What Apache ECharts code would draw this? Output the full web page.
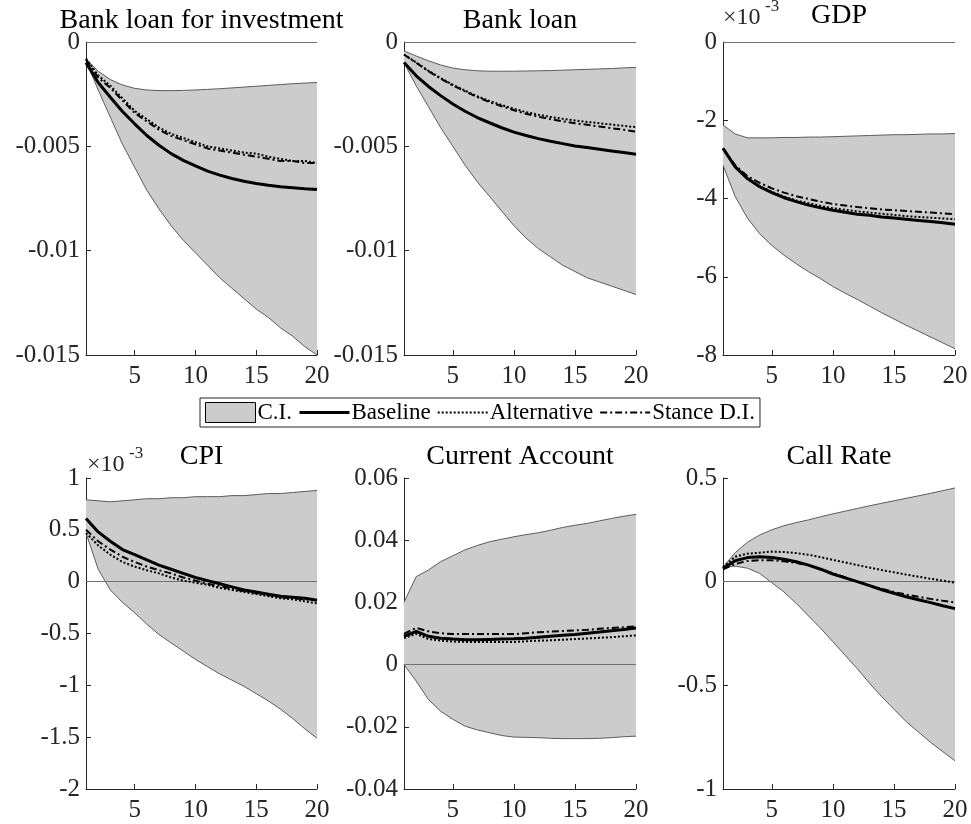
<!DOCTYPE html>
<html><head><meta charset="utf-8">
<script src="https://cdn.jsdelivr.net/npm/echarts@6/dist/echarts.min.js"></script>
<style>html,body{margin:0;padding:0;background:#fff}#c{width:971px;height:824px}</style>
</head><body><div id="c"></div>
<script>
// ---------------- data ----------------
const periods = [1,2,3,4,5,6,7,8,9,10,11,12,13,14,15,16,17,18,19,20];
const xTickValues = [5,10,15,20];
const legendNames = ['C.I.', 'Baseline', 'Alternative', 'Stance D.I.'];
const panelTitles = ['Bank loan for investment', 'Bank loan', 'GDP', 'CPI', 'Current Account', 'Call Rate'];

// Bank loan for investment
const bliUpper  = [-0.0008,-0.0014,-0.0018,-0.00206,-0.00222,-0.0023,-0.00233,-0.00233,-0.00232,-0.0023,-0.00227,-0.00224,-0.0022,-0.00216,-0.00212,-0.00208,-0.00204,-0.002,-0.00197,-0.00194];
const bliLower  = [-0.0009,-0.0023,-0.0036,-0.0049,-0.006,-0.0071,-0.008,-0.0088,-0.0095,-0.0101,-0.0107,-0.0113,-0.0118,-0.0123,-0.0128,-0.0132,-0.0137,-0.0141,-0.0146,-0.015];
const bliBase   = [-0.00099,-0.00194,-0.00265,-0.00333,-0.00392,-0.00448,-0.00495,-0.00535,-0.00567,-0.00594,-0.00619,-0.00638,-0.00654,-0.00667,-0.00678,-0.00687,-0.00694,-0.00698,-0.00703,-0.00707];
const bliAlt    = [-0.0008,-0.0016,-0.0021,-0.0027,-0.0033,-0.0037,-0.0041,-0.0044,-0.0046,-0.0048,-0.005,-0.0051,-0.0052,-0.0053,-0.00535,-0.0055,-0.0056,-0.0057,-0.0057,-0.0058];
const bliStance = [-0.00085,-0.0017,-0.0022,-0.0028,-0.0034,-0.0038,-0.0042,-0.0045,-0.0047,-0.0049,-0.0051,-0.0052,-0.0053,-0.0054,-0.0055,-0.0056,-0.0057,-0.0057,-0.0058,-0.0058];

// Bank loan
const blUpper  = [-0.00043,-0.00067,-0.0009,-0.0011,-0.00125,-0.00133,-0.00138,-0.0014,-0.0014,-0.0014,-0.00139,-0.00138,-0.00137,-0.00135,-0.00133,-0.00131,-0.00129,-0.00127,-0.00124,-0.00122];
const blLower  = [-0.001,-0.0021,-0.0031,-0.0041,-0.005,-0.0059,-0.0067,-0.0074,-0.0081,-0.0088,-0.0094,-0.0099,-0.0103,-0.0107,-0.011,-0.0113,-0.0115,-0.0117,-0.0119,-0.0121];
const blBase   = [-0.00098,-0.00162,-0.00213,-0.00257,-0.00297,-0.00332,-0.00362,-0.00387,-0.00411,-0.00432,-0.00448,-0.00463,-0.00476,-0.00487,-0.00498,-0.00506,-0.00514,-0.00522,-0.0053,-0.00538];
const blAlt    = [-0.0006,-0.00098,-0.00138,-0.00173,-0.00205,-0.00233,-0.0026,-0.00283,-0.00302,-0.0032,-0.00336,-0.00348,-0.00359,-0.00368,-0.00376,-0.00383,-0.00389,-0.00396,-0.00402,-0.00408];
const blStance = [-0.0006,-0.001,-0.0014,-0.00176,-0.00208,-0.00237,-0.00264,-0.00288,-0.00308,-0.00327,-0.00344,-0.00358,-0.0037,-0.0038,-0.00389,-0.00397,-0.00405,-0.00413,-0.00421,-0.00429];

// GDP (x 10^-3)
const gdpUpper  = [-2.12,-2.35,-2.45,-2.45,-2.45,-2.44,-2.44,-2.43,-2.43,-2.42,-2.41,-2.4,-2.39,-2.38,-2.37,-2.37,-2.36,-2.35,-2.35,-2.34];
const gdpLower  = [-3.15,-3.95,-4.5,-4.9,-5.2,-5.45,-5.67,-5.87,-6.05,-6.25,-6.42,-6.58,-6.75,-6.92,-7.08,-7.24,-7.39,-7.54,-7.69,-7.84];
const gdpBase   = [-2.72,-3.19,-3.49,-3.7,-3.85,-3.98,-4.08,-4.17,-4.24,-4.3,-4.35,-4.4,-4.43,-4.47,-4.5,-4.53,-4.56,-4.59,-4.62,-4.66];
const gdpAlt    = [-2.72,-3.18,-3.47,-3.68,-3.83,-3.95,-4.05,-4.12,-4.19,-4.25,-4.29,-4.33,-4.36,-4.39,-4.42,-4.45,-4.47,-4.49,-4.51,-4.53];
const gdpStance = [-2.72,-3.15,-3.43,-3.6,-3.74,-3.85,-3.94,-4.01,-4.08,-4.14,-4.18,-4.22,-4.25,-4.28,-4.3,-4.32,-4.34,-4.36,-4.38,-4.4];

// CPI (x 10^-3)
const cpiUpper  = [0.79,0.78,0.77,0.78,0.79,0.8,0.8,0.81,0.81,0.82,0.82,0.82,0.83,0.83,0.84,0.85,0.85,0.86,0.87,0.88];
const cpiLower  = [0.47,0.12,-0.08,-0.2,-0.3,-0.41,-0.51,-0.59,-0.67,-0.75,-0.82,-0.89,-0.95,-1.01,-1.08,-1.15,-1.23,-1.32,-1.42,-1.51];
const cpiBase   = [0.61,0.48,0.39,0.31,0.26,0.21,0.16,0.12,0.08,0.04,0.01,-0.02,-0.05,-0.08,-0.1,-0.12,-0.14,-0.15,-0.16,-0.18];
const cpiAlt    = [0.47,0.35,0.26,0.19,0.145,0.11,0.08,0.04,0.01,-0.01,-0.03,-0.06,-0.08,-0.1,-0.12,-0.14,-0.16,-0.17,-0.19,-0.21];
const cpiStance = [0.5,0.39,0.31,0.24,0.19,0.145,0.11,0.08,0.04,0.01,-0.02,-0.04,-0.07,-0.09,-0.11,-0.13,-0.15,-0.16,-0.17,-0.18];

// Current Account
const caUpper  = [0.02,0.0283,0.0304,0.0331,0.035,0.0369,0.0383,0.0395,0.0403,0.0411,0.0418,0.0424,0.0432,0.0441,0.0448,0.0454,0.0462,0.047,0.0477,0.0483];
const caLower  = [0,-0.0053,-0.0112,-0.015,-0.0176,-0.0198,-0.021,-0.0219,-0.0228,-0.0233,-0.0234,-0.0235,-0.0237,-0.0238,-0.0238,-0.0238,-0.0237,-0.0235,-0.0232,-0.023];
const caBase   = [0.0091,0.0107,0.0091,0.0085,0.0082,0.008,0.008,0.0081,0.0082,0.0083,0.0085,0.0088,0.0091,0.0094,0.0097,0.0101,0.0105,0.0109,0.0113,0.0118];
const caAlt    = [0.0085,0.0099,0.0082,0.0077,0.0074,0.0073,0.0073,0.0073,0.0073,0.0073,0.0075,0.0077,0.0078,0.008,0.0082,0.0084,0.0086,0.0088,0.0091,0.0094];
const caStance = [0.0099,0.0118,0.0107,0.0101,0.0098,0.0098,0.0098,0.0098,0.0098,0.0098,0.0101,0.0104,0.0106,0.0108,0.011,0.0112,0.0115,0.0118,0.012,0.0123];

// Call Rate
const crUpper  = [0.07,0.14,0.19,0.225,0.25,0.27,0.285,0.298,0.313,0.327,0.34,0.353,0.366,0.378,0.39,0.402,0.414,0.426,0.439,0.452];
const crLower  = [0.07,0.075,0.065,0.04,-0.005,-0.05,-0.105,-0.165,-0.225,-0.29,-0.355,-0.42,-0.49,-0.555,-0.615,-0.675,-0.725,-0.775,-0.82,-0.864];
const crBase   = [0.064,0.101,0.116,0.12,0.117,0.108,0.096,0.08,0.06,0.037,0.018,0,-0.019,-0.039,-0.056,-0.073,-0.087,-0.101,-0.116,-0.13];
const crAlt    = [0.07,0.12,0.135,0.14,0.145,0.143,0.138,0.13,0.118,0.105,0.093,0.08,0.068,0.056,0.045,0.034,0.024,0.014,0.005,-0.005];
const crStance = [0.06,0.085,0.1,0.103,0.103,0.098,0.09,0.08,0.06,0.04,0.021,0,-0.018,-0.035,-0.05,-0.062,-0.073,-0.083,-0.092,-0.1];

// y-axis ranges [min, max, interval]
const yRanges = [[-0.015,0,0.005],[-0.015,0,0.005],[-8,0,2],[-2,1,0.5],[-0.04,0.06,0.02],[-1,0.5,0.5]];

// ---------------- layout / style ----------------
const FONT = '"Liberation Serif","Times New Roman",serif';
const AX = '#262626';
const gridBoxes = [
  {left:86, top:42, width:231, height:313},
  {left:404, top:42, width:232, height:313},
  {left:723, top:42, width:232, height:313},
  {left:86, top:478, width:231, height:311},
  {left:404, top:478, width:232, height:311},
  {left:723, top:478, width:232, height:311}
];
const titleTops = [7, 7, 2, 443, 443, 443];

const panels = [
  {u:bliUpper, l:bliLower, b:bliBase, a:bliAlt, s:bliStance},
  {u:blUpper,  l:blLower,  b:blBase,  a:blAlt,  s:blStance},
  {u:gdpUpper, l:gdpLower, b:gdpBase, a:gdpAlt, s:gdpStance},
  {u:cpiUpper, l:cpiLower, b:cpiBase, a:cpiAlt, s:cpiStance},
  {u:caUpper,  l:caLower,  b:caBase,  a:caAlt,  s:caStance},
  {u:crUpper,  l:crLower,  b:crBase,  a:crAlt,  s:crStance}
];

const pairs = arr => periods.map((x,k)=>[x, arr[k]]);
const DASHDOT = [7,3,2,3];

// confidence band: polygon between lower and upper, drawn once through the axis scales
function renderBand(params, api) {
  if (params.dataIndexInside !== 0) return null;
  const n = params.dataInsideLength;
  const up = [], lo = [];
  for (let k = 0; k < n; k++) {
    const x = api.value(0, k);
    lo.push(api.coord([x, api.value(1, k)]));
    up.push(api.coord([x, api.value(2, k)]));
  }
  return {type:'group', children:[
    {type:'polygon', shape:{points: up.concat(lo.slice().reverse())}, style:{fill:'#cccccc', stroke:null}},
    {type:'polyline', shape:{points: up}, style:{stroke:'#5c5c5c', lineWidth:1, fill:null}},
    {type:'polyline', shape:{points: lo}, style:{stroke:'#5c5c5c', lineWidth:1, fill:null}}
  ]};
}

const grid=[], xAxis=[], yAxis=[], series=[], title=[];
panels.forEach((p,i)=>{
  const g = gridBoxes[i];
  grid.push(Object.assign({containLabel:false}, g));
  title.push({text:panelTitles[i], left:g.left + g.width/2, top:titleTops[i], textAlign:'center', padding:0,
    textStyle:{fontFamily:FONT, fontSize:28, fontWeight:'normal', color:'#000'}});
  xAxis.push({type:'value', gridIndex:i, min:1, max:20,
    axisLine:{show:true, onZero:false, lineStyle:{color:AX, width:1}},
    axisTick:{show:true, inside:true, length:5, customValues:xTickValues, lineStyle:{color:AX}},
    axisLabel:{customValues:xTickValues, fontFamily:FONT, fontSize:25, color:AX, margin:9},
    splitLine:{show:false}});
  const r = yRanges[i];
  yAxis.push({type:'value', gridIndex:i, min:r[0], max:r[1], interval:r[2],
    axisLine:{show:true, onZero:false, lineStyle:{color:AX, width:1}},
    axisTick:{show:true, inside:true, length:5, lineStyle:{color:AX}},
    axisLabel:{fontFamily:FONT, fontSize:25, color:AX, margin:6},
    splitLine:{show:false}});
  series.push({type:'custom', name:'C.I.', xAxisIndex:i, yAxisIndex:i, silent:true, animation:false, z:2,
    data: periods.map((x,k)=>[x, p.l[k], p.u[k]]), encode:{x:0, y:[1,2]},
    itemStyle:{color:'#cccccc'}, renderItem: renderBand});
  const common = {type:'line', xAxisIndex:i, yAxisIndex:i, symbol:'none', silent:true, animation:false};
  series.push(Object.assign({}, common, {name:'Baseline', z:5, data:pairs(p.b),
    lineStyle:{color:'#000', width:3}, itemStyle:{color:'#000'},
    markLine:{silent:true, symbol:'none', label:{show:false}, animation:false,
      lineStyle:{color:'#707070', width:1, type:'solid'}, data:[{yAxis:0}]}}));
  series.push(Object.assign({}, common, {name:'Alternative', z:6, data:pairs(p.a),
    lineStyle:{color:'#000', width:2, type:'dotted'}, itemStyle:{color:'#000'}}));
  series.push(Object.assign({}, common, {name:'Stance D.I.', z:7, data:pairs(p.s),
    lineStyle:{color:'#000', width:2, type:DASHDOT}, itemStyle:{color:'#000'}}));
});

const expo = (left, top) => ([
  {type:'text', left:left, top:top, style:{text:'×10', font:'24px ' + FONT, fill:AX}},
  {type:'text', left:left+42, top:top-8, style:{text:'-3', font:'17px ' + FONT, fill:AX}}
]);

const hiddenSym = {color:'rgba(0,0,0,0)', borderColor:'rgba(0,0,0,0)', borderWidth:0, opacity:0};

const option = {
  animation:false,
  backgroundColor:'#fff',
  title:title,
  grid:grid, xAxis:xAxis, yAxis:yAxis, series:series,
  legend:{
    left:200, top:398, orient:'horizontal',
    padding:[3,5], itemGap:6, itemWidth:50, itemHeight:20,
    borderColor:AX, borderWidth:1, backgroundColor:'#fff',
    textStyle:{fontFamily:FONT, fontSize:23, color:'#000', padding:[0,0,0,-3]},
    selectedMode:false,
    data:[
      {name:legendNames[0], icon:'rect', itemStyle:{color:'#cccccc', borderColor:'#000', borderWidth:1}},
      {name:legendNames[1], lineStyle:{width:3, color:'#000', type:'solid'}, itemStyle:hiddenSym},
      {name:legendNames[2], lineStyle:{width:2, color:'#000', type:'dotted'}, itemStyle:hiddenSym},
      {name:legendNames[3], lineStyle:{width:2, color:'#000', type:DASHDOT}, itemStyle:hiddenSym}
    ]
  },
  graphic: expo(723, 6).concat(expo(87, 453))
};

const chart = echarts.init(document.getElementById('c'), null, {renderer:'canvas'});
chart.setOption(option);
</script></body></html>
